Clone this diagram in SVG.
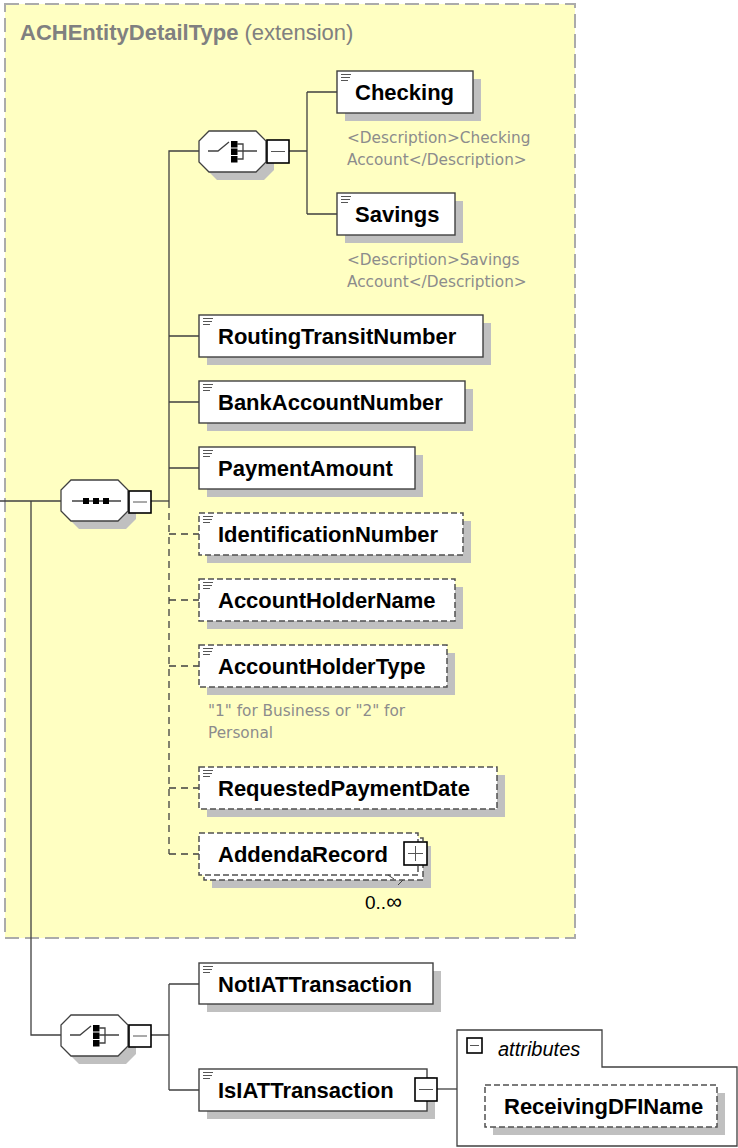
<svg xmlns="http://www.w3.org/2000/svg" width="738" height="1148" viewBox="0 0 738 1148">
<style>
.bg{fill:#ffffc2;stroke:#ababab;stroke-width:2;stroke-dasharray:14,6}
.sh{fill:#c0c0c0}
.el{fill:#fff;stroke:#404040;stroke-width:1.4}
.opt{fill:#fff;stroke:#505050;stroke-width:1.5;stroke-dasharray:6,3}
.nm{font-family:"Liberation Sans",Arial,sans-serif;font-weight:bold;font-size:22px;fill:#000}
.ds{font-family:"DejaVu Sans",sans-serif;font-size:15.3px;fill:#8c8c8c}
.ln{fill:none;stroke:#404040;stroke-width:1.3}
.dl{fill:none;stroke:#404040;stroke-width:1.3;stroke-dasharray:7,5}
.ic{stroke:#555;stroke-width:1}
.bx{fill:#fff;stroke:#000;stroke-width:1.6}
.mn{stroke:#555;stroke-width:1}
.oct{fill:#fff;stroke:#404040;stroke-width:1.3}
</style>
<defs>
<g id="doc"><path class="ic" d="M4 3.5H14M4 6.5H13M4 9.5H11"/></g>
<polygon id="octS" points="10,0 57,0 67,10 67,31 57,41 10,41 0,31 0,10"/>
</defs>

<g id="container">
<rect class="bg" x="5" y="4" width="570" height="934"/>
<text x="20" y="40" font-family="Liberation Sans,Arial,sans-serif" font-size="22" fill="#808080"><tspan font-weight="bold">ACHEntityDetailType</tspan> (extension)</text>
</g>

<g id="connectors">
<path class="ln" d="M0 501H61"/>
<path class="ln" d="M31 501V1035H61"/>
<path class="ln" d="M151 501H169"/>
<path class="ln" d="M169 501V151H199"/>
<path class="ln" d="M169 336H199M169 402H199M169 468H199"/>
<path class="dl" d="M169 501V854"/>
<path class="dl" d="M169 534H199M169 600H199M169 666H199M169 788H199M169 854H199"/>
<path class="ln" d="M289 151H307M307 92V214M307 92H337M307 214H337"/>
<path class="ln" d="M151 1035H169M169 984V1090M169 984H199M169 1090H199"/>
<path class="ln" d="M437 1089H457"/>
</g>

<g id="choice1">
<use href="#octS" x="207" y="139" class="sh"/>
<use href="#octS" x="199" y="131" class="oct"/>
<path class="ln" d="M208 151H218L229 142"/>
<rect x="231" y="141" width="6.5" height="6.5" fill="#000"/>
<rect x="231" y="148.5" width="6.5" height="6.5" fill="#000"/>
<rect x="231" y="156" width="6.5" height="6.5" fill="#000"/>
<path class="ln" d="M237 144H243V159H237M237 151H257"/>
<rect class="bx" x="267" y="140" width="22" height="23"/>
<path class="mn" d="M271 151.5H285"/>
</g>

<g id="sequence">
<use href="#octS" x="69" y="488" class="sh"/>
<use href="#octS" x="61" y="480" class="oct"/>
<path class="ln" d="M72 501H121"/>
<rect x="83" y="498" width="6" height="6" fill="#000"/>
<rect x="93" y="498" width="6" height="6" fill="#000"/>
<rect x="103" y="498" width="6" height="6" fill="#000"/>
<rect class="bx" x="129" y="491" width="22" height="22"/>
<path class="mn" d="M133 502H147"/>
</g>

<g id="choice2">
<use href="#octS" x="69" y="1023" class="sh"/>
<use href="#octS" x="61" y="1015" class="oct"/>
<path class="ln" d="M70 1035H80L91 1026"/>
<rect x="93" y="1025" width="6.5" height="6.5" fill="#000"/>
<rect x="93" y="1032.5" width="6.5" height="6.5" fill="#000"/>
<rect x="93" y="1040" width="6.5" height="6.5" fill="#000"/>
<path class="ln" d="M99 1028H105V1043H99M99 1035H119"/>
<rect class="bx" x="129" y="1025" width="22" height="22"/>
<path class="mn" d="M133 1036H147"/>
</g>

<g id="Checking">
<rect class="sh" x="345" y="79" width="136" height="42"/>
<rect class="el" x="337" y="71" width="136" height="42"/>
<use href="#doc" x="337" y="71"/>
<text class="nm" x="355" y="100">Checking</text>
<text class="ds" x="347" y="143">&lt;Description&gt;Checking</text>
<text class="ds" x="347" y="165">Account&lt;/Description&gt;</text>
</g>

<g id="Savings">
<rect class="sh" x="345" y="201" width="118" height="42"/>
<rect class="el" x="337" y="193" width="118" height="42"/>
<use href="#doc" x="337" y="193"/>
<text class="nm" x="355" y="222">Savings</text>
<text class="ds" x="347" y="265">&lt;Description&gt;Savings</text>
<text class="ds" x="347" y="287">Account&lt;/Description&gt;</text>
</g>

<g id="RoutingTransitNumber">
<rect class="sh" x="207" y="323" width="284" height="42"/>
<rect class="el" x="199" y="315" width="284" height="42"/>
<use href="#doc" x="199" y="315"/>
<text class="nm" x="218" y="344">RoutingTransitNumber</text>
</g>

<g id="BankAccountNumber">
<rect class="sh" x="207" y="389" width="266" height="42"/>
<rect class="el" x="199" y="381" width="266" height="42"/>
<use href="#doc" x="199" y="381"/>
<text class="nm" x="218" y="410">BankAccountNumber</text>
</g>

<g id="PaymentAmount">
<rect class="sh" x="207" y="455" width="216" height="42"/>
<rect class="el" x="199" y="447" width="216" height="42"/>
<use href="#doc" x="199" y="447"/>
<text class="nm" x="218" y="476">PaymentAmount</text>
</g>

<g id="IdentificationNumber">
<rect class="sh" x="207" y="521" width="264" height="42"/>
<rect class="opt" x="199" y="513" width="264" height="42"/>
<use href="#doc" x="199" y="513"/>
<text class="nm" x="218" y="542">IdentificationNumber</text>
</g>

<g id="AccountHolderName">
<rect class="sh" x="207" y="587" width="256" height="42"/>
<rect class="opt" x="199" y="579" width="256" height="42"/>
<use href="#doc" x="199" y="579"/>
<text class="nm" x="218" y="608">AccountHolderName</text>
</g>

<g id="AccountHolderType">
<rect class="sh" x="207" y="653" width="248" height="42"/>
<rect class="opt" x="199" y="645" width="248" height="42"/>
<use href="#doc" x="199" y="645"/>
<text class="nm" x="218" y="674">AccountHolderType</text>
<text class="ds" x="208" y="716">"1" for Business or "2" for</text>
<text class="ds" x="208" y="738">Personal</text>
</g>

<g id="RequestedPaymentDate">
<rect class="sh" x="207" y="775" width="298" height="42"/>
<rect class="opt" x="199" y="767" width="298" height="42"/>
<use href="#doc" x="199" y="767"/>
<text class="nm" x="218" y="796">RequestedPaymentDate</text>
</g>

<g id="AddendaRecord">
<rect class="sh" x="212" y="846" width="219" height="42"/>
<rect class="opt" x="204" y="838" width="219" height="42"/>
<rect class="opt" x="199" y="833" width="219" height="42"/>
<path fill="none" stroke="#404040" stroke-width="1" d="M388 875L394 879M398 885L403 880"/>
<text class="nm" x="218" y="862">AddendaRecord</text>
<rect class="bx" x="404" y="842" width="23" height="23"/>
<path class="mn" d="M408 853.5H423M415.5 846V861"/>
<text x="365" y="909" font-family="Liberation Sans,Arial,sans-serif" font-size="19" fill="#000">0..<tspan font-size="22">∞</tspan></text>
</g>

<g id="NotIATTransaction">
<rect class="sh" x="207" y="971" width="234" height="41"/>
<rect class="el" x="199" y="963" width="234" height="41"/>
<use href="#doc" x="199" y="963"/>
<text class="nm" x="218" y="992">NotIATTransaction</text>
</g>

<g id="IsIATTransaction">
<rect class="sh" x="207" y="1077" width="228" height="42"/>
<rect class="el" x="199" y="1069" width="228" height="42"/>
<use href="#doc" x="199" y="1069"/>
<text class="nm" x="218" y="1098">IsIATTransaction</text>
<rect class="bx" x="415" y="1078" width="22" height="23"/>
<path class="mn" d="M419 1089.5H433"/>
</g>

<g id="attributes">
<path fill="#fff" stroke="#404040" stroke-width="1.3" d="M457 1146V1030H602V1067H737V1146Z"/>
<rect class="bx" x="467" y="1038" width="15" height="15"/>
<path class="mn" d="M470 1045.5H479"/>
<text x="498" y="1056" font-family="Liberation Sans,Arial,sans-serif" font-style="italic" font-size="20" fill="#000">attributes</text>
</g>

<g id="ReceivingDFIName">
<rect class="sh" x="493" y="1093" width="232" height="42"/>
<rect class="opt" x="485" y="1085" width="232" height="42"/>
<text class="nm" x="504" y="1114">ReceivingDFIName</text>
</g>
</svg>
